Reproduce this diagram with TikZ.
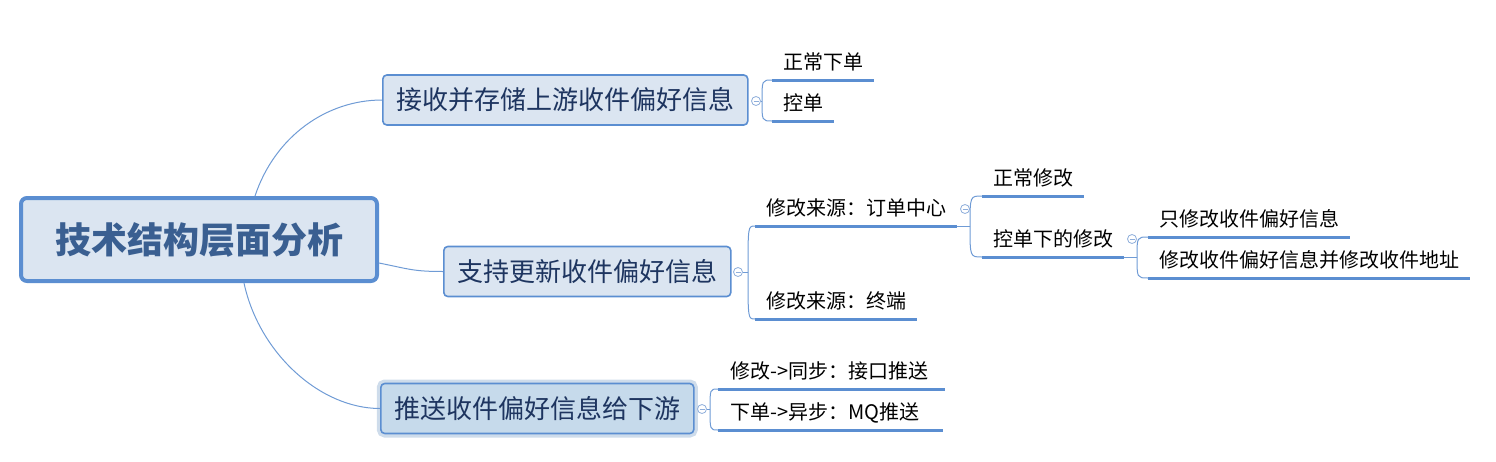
\documentclass[tikz,border=0pt]{standalone}
\usepackage{fontspec}
\newfontfamily\cjk{Noto Sans CJK SC}

\definecolor{linecol}{HTML}{6F9BD5}
\definecolor{edgecol}{HTML}{5B8ED1}
\definecolor{boxfill}{HTML}{DBE5F1}
\definecolor{selfill}{HTML}{C6DAEB}
\definecolor{halocol}{HTML}{CEDCEB}
\definecolor{roottext}{HTML}{3A5F91}
\definecolor{topictext}{HTML}{1E3560}
\definecolor{foldcol}{HTML}{8EAEDB}

\tikzset{
    root/.style={draw=edgecol, line width=4pt, fill=boxfill, rounded corners=6pt,
        minimum width=356pt, minimum height=83pt, text=roottext,
        font=\cjk\bfseries\fontsize{36pt}{40pt}\selectfont},
    topic/.style={anchor=west, draw=edgecol, line width=1.6pt, fill=boxfill,
        rounded corners=4pt, inner xsep=13.5pt, minimum height=50pt, text=topictext,
        font=\cjk\fontsize{26pt}{30pt}\selectfont},
    selected/.style={fill=selfill, preaction={draw=halocol, line width=8pt}},
    leaf/.style={anchor=south west, inner xsep=11pt, inner ysep=10pt, text depth=0pt,
        font=\cjk\fontsize{20pt}{24pt}\selectfont},
    underline/.style={draw=edgecol, line width=3pt},
    branch/.style={draw=linecol, line width=1pt},
    fold/.style={circle, draw=foldcol, fill=white, line width=0.8pt, minimum size=9pt,
        inner sep=0pt, path picture={\draw[foldcol, line width=0.8pt]
            ([xshift=2pt]path picture bounding box.west) --
            ([xshift=-2pt]path picture bounding box.east);}},
}

\begin{document}
\begin{tikzpicture}[x=1pt,y=-1pt]
    \useasboundingbox (0,0) rectangle (1496,461);
    % central topic
    \node[root] (root) at (199,239.5) {技术结构层面分析};

    % main topics
    \node[topic] (t1) at (382,100) {接收并存储上游收件偏好信息};
    \node[topic] (t2) at (443,271.5) {支持更新收件偏好信息};
    \node[topic, selected] (t3) at (380,408.5) {推送收件偏好信息给下游};

    % curves from the central topic
    \draw[branch] ([xshift=56pt]root.north) .. controls +(20,-60) and +(-55,0) .. (t1.west);
    \draw[branch] ([yshift=-23.5pt]root.east) .. controls +(30,6) and +(-30,0) .. (t2.west);
    \draw[branch] ([xshift=45pt]root.south) .. controls +(15,70) and +(-60,0) .. (t3.west);

    % leaves
    \node[leaf] (l11) at (772,80) {正常下单};
    \node[leaf] (l12) at (772,121) {控单};
    \node[leaf] (l21) at (755,226) {修改来源：订单中心};
    \node[leaf] (l22) at (755,319) {修改来源：终端};
    \node[leaf] (l211) at (982,196) {正常修改};
    \node[leaf] (l212) at (982,257) {控单下的修改};
    \node[leaf] (l2121) at (1148,237) {只修改收件偏好信息};
    \node[leaf] (l2122) at (1148,278) {修改收件偏好信息并修改收件地址};
    \node[leaf, inner xsep=12pt] (l31) at (718,389) {修改->同步：接口推送\kern5pt};
    \node[leaf, inner xsep=12pt] (l32) at (718,430) {下单->异步：MQ推送\kern11pt};

    \foreach \n in {l11,l12,l21,l22,l211,l212,l2121,l2122,l31,l32}
        \draw[underline] (\n.south west) -- (\n.south east);

    % fold marks and junctions
    \node[fold] (c1) at (756,101) {};
    \node[fold] (c2) at (738,272) {};
    \node[fold] (c3) at (702,409) {};
    \node[fold] (c21) at (965,209) {};
    \node[fold] (c212) at (1132,239) {};
    \coordinate (j1) at (762,101);
    \coordinate (j2) at (748,272);
    \coordinate (j3) at (710,409);
    \coordinate (j21) at (970,226);
    \coordinate (j212) at (1137,257);

    \draw[branch] (c1.east) -- (j1);
    \draw[branch] (c2.east) -- (j2);
    \draw[branch] (c3.east) -- (j3);
    \draw[branch] (l21.south east) -- (j21);
    \draw[branch] (l212.south east) -- (j212);

    \foreach \j/\n in {j1/l11, j1/l12, j2/l21, j2/l22, j3/l31, j3/l32,
                       j21/l211, j21/l212, j212/l2121, j212/l2122}
        \draw[branch] (\j) .. controls (\j |- \n.south west) and (\j |- \n.south west)
            .. (\n.south west);
\end{tikzpicture}
\end{document}
